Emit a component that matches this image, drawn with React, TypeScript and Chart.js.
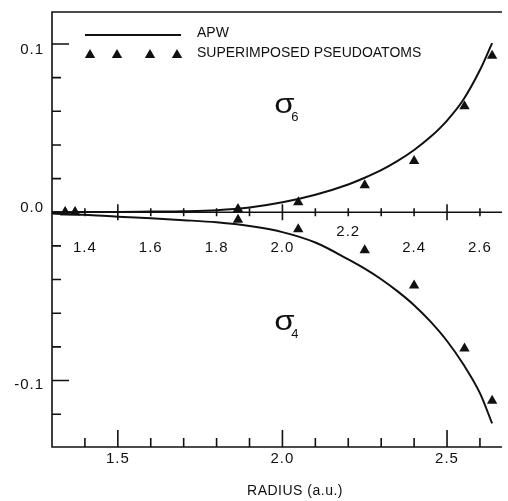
import { useEffect, useRef } from 'react';
import { Chart, registerables } from 'chart.js';

Chart.register(...registerables);

// APW curves (radius in a.u.)
const apwRadius = [1.3, 1.4, 1.5, 1.6, 1.7, 1.8, 1.9, 2.0, 2.1, 2.2, 2.25, 2.3, 2.35, 2.4, 2.45, 2.5, 2.55, 2.6, 2.637];
const apwSigma6 = [0.0, 0.0001, 0.0002, 0.0004, 0.0006, 0.0012, 0.0028, 0.0059, 0.0104, 0.0165, 0.0205, 0.025, 0.0305, 0.037, 0.0448, 0.0545, 0.067, 0.0845, 0.1005];
const apwSigma4 = [-0.0008, -0.0015, -0.0027, -0.0036, -0.0047, -0.006, -0.0082, -0.0118, -0.018, -0.028, -0.0335, -0.0398, -0.047, -0.0552, -0.065, -0.0765, -0.0905, -0.1075, -0.1255];

// Superimposed pseudoatoms
const pseudoRadius = [1.34, 1.37, 1.865, 2.048, 2.25, 2.4, 2.553, 2.637];
const pseudoSigma6 = [0.0, 0.0, 0.002, 0.006, 0.016, 0.0305, 0.063, 0.093];
const pseudoSigma4 = [0.0, 0.0, -0.0044, -0.0101, -0.0226, -0.0435, -0.081, -0.112];

// Axis ticks
const yMajorTicks = [0.1, 0.0, -0.1];
const yTickLabels = ['0.1', '0.0', '-0.1'];
const yMinorTicks = [0.08, 0.06, 0.04, 0.02, -0.02, -0.04, -0.06, -0.08, -0.12];
const xMajorTicks = [1.5, 2.0, 2.5];
const xTickLabels = ['1.5', '2.0', '2.5'];
const xMinorTicks = [1.4, 1.6, 1.7, 1.8, 1.9, 2.1, 2.2, 2.3, 2.4, 2.6];
const midMinorTicks = [1.4, 1.6, 1.7, 1.8, 1.9, 2.1, 2.2, 2.3, 2.4, 2.6];
const midLabelValues = [1.4, 1.6, 1.8, 2.0, 2.2, 2.4, 2.6];
const midLabels = ['1.4', '1.6', '1.8', '2.0', '2.2', '2.4', '2.6'];
const midLabelRaised = [false, false, false, false, true, false, false];

const xTitle = 'RADIUS (a.u.)';
const legendLine = 'APW';
const legendPoints = 'SUPERIMPOSED PSEUDOATOMS';
const sigmaLabels = [
  { sub: '6', r: 1.975, v: 0.064 },
  { sub: '4', r: 1.975, v: -0.065 },
];

const INK = '#111';
const FONT = '"Liberation Sans", Arial, sans-serif';

function drawTriangle(ctx: CanvasRenderingContext2D, x: number, y: number, r: number) {
  const step = (2 * Math.PI) / 3;
  ctx.beginPath();
  for (let i = 0; i < 3; i++) {
    const a = i * step;
    const px = x + Math.sin(a) * r;
    const py = y - Math.cos(a) * r;
    if (i === 0) ctx.moveTo(px, py);
    else ctx.lineTo(px, py);
  }
  ctx.closePath();
  ctx.fill();
}

const axesPlugin = {
  id: 'customAxes',
  afterDraw(chart: any) {
    const { ctx, chartArea, scales } = chart;
    const { left, right, top, bottom } = chartArea;
    const x = scales.x;
    const y = scales.y;
    ctx.save();
    ctx.strokeStyle = INK;
    ctx.fillStyle = INK;
    ctx.lineWidth = 1.6;

    // frame: top, left, bottom
    ctx.beginPath();
    ctx.moveTo(right, top);
    ctx.lineTo(left, top);
    ctx.lineTo(left, bottom);
    ctx.lineTo(right, bottom);
    ctx.stroke();

    // y ticks (inward)
    ctx.beginPath();
    yMajorTicks.forEach((v) => {
      const py = y.getPixelForValue(v);
      ctx.moveTo(left, py);
      ctx.lineTo(left + 17, py);
    });
    yMinorTicks.forEach((v) => {
      const py = y.getPixelForValue(v);
      ctx.moveTo(left, py);
      ctx.lineTo(left + 9, py);
    });
    // x ticks (inward from bottom)
    xMajorTicks.forEach((v) => {
      const px = x.getPixelForValue(v);
      ctx.moveTo(px, bottom);
      ctx.lineTo(px, bottom - 17);
    });
    xMinorTicks.forEach((v) => {
      const px = x.getPixelForValue(v);
      ctx.moveTo(px, bottom);
      ctx.lineTo(px, bottom - 9);
    });
    ctx.stroke();

    // middle axis at zero
    const y0 = y.getPixelForValue(0);
    ctx.beginPath();
    ctx.moveTo(left, y0);
    ctx.lineTo(right, y0);
    xMajorTicks.forEach((v) => {
      const px = x.getPixelForValue(v);
      ctx.moveTo(px, y0 - 8);
      ctx.lineTo(px, y0 + 8);
    });
    midMinorTicks.forEach((v) => {
      const px = x.getPixelForValue(v);
      ctx.moveTo(px, y0 - 4);
      ctx.lineTo(px, y0 + 4);
    });
    ctx.stroke();

    // labels
    ctx.font = `15px ${FONT}`;
    (ctx as any).letterSpacing = '1px';
    ctx.textBaseline = 'middle';
    ctx.textAlign = 'right';
    const yOff = [6, -4, 4];
    yMajorTicks.forEach((v, i) => {
      ctx.fillText(yTickLabels[i], left - 8, y.getPixelForValue(v) + yOff[i]);
    });
    ctx.textAlign = 'center';
    xMajorTicks.forEach((v, i) => {
      ctx.fillText(xTickLabels[i], x.getPixelForValue(v), bottom + 12);
    });
    midLabelValues.forEach((v, i) => {
      ctx.fillText(midLabels[i], x.getPixelForValue(v), y0 + (midLabelRaised[i] ? 20 : 36));
    });

    // x title
    ctx.font = `14px ${FONT}`;
    (ctx as any).letterSpacing = '0.5px';
    ctx.fillText(xTitle, 295, bottom + 44);

    // legend
    ctx.font = `14px ${FONT}`;
    (ctx as any).letterSpacing = '0px';
    ctx.textAlign = 'left';
    ctx.lineWidth = 2;
    ctx.beginPath();
    ctx.moveTo(85, 35);
    ctx.lineTo(181, 35);
    ctx.stroke();
    ctx.fillText(legendLine, 197, 33);
    [90, 117, 150, 177].forEach((px) => drawTriangle(ctx, px, 55, 6));
    ctx.fillText(legendPoints, 197, 53);

    // sigma labels
    sigmaLabels.forEach((s) => {
      const sx = x.getPixelForValue(s.r);
      const sy = y.getPixelForValue(s.v);
      ctx.save();
      ctx.translate(sx, sy);
      ctx.scale(1.22, 1);
      ctx.font = `27px ${FONT}`;
      ctx.textAlign = 'left';
      ctx.textBaseline = 'alphabetic';
      ctx.fillText('σ', 0, 8);
      ctx.restore();
      ctx.font = `13px ${FONT}`;
      ctx.textAlign = 'left';
      ctx.textBaseline = 'middle';
      ctx.fillText(s.sub, sx + 17, sy + 13);
    });

    ctx.restore();
  },
};

export default function App() {
  const canvasRef = useRef<HTMLCanvasElement | null>(null);

  useEffect(() => {
    document.body.style.margin = '0';
    const canvas = canvasRef.current;
    if (!canvas) return;
    const toPts = (xs: number[], ys: number[]) => xs.map((v, i) => ({ x: v, y: ys[i] }));
    const chart = new Chart(canvas, {
      type: 'scatter',
      data: {
        datasets: [
          {
            label: 'APW σ6',
            data: toPts(apwRadius, apwSigma6),
            showLine: true,
            borderColor: INK,
            borderWidth: 2,
            pointRadius: 0,
            cubicInterpolationMode: 'monotone',
          },
          {
            label: 'APW σ4',
            data: toPts(apwRadius, apwSigma4),
            showLine: true,
            borderColor: INK,
            borderWidth: 2,
            pointRadius: 0,
            cubicInterpolationMode: 'monotone',
          },
          {
            label: 'Pseudoatoms σ6',
            data: toPts(pseudoRadius, pseudoSigma6),
            showLine: false,
            pointStyle: 'triangle',
            pointRadius: 6,
            backgroundColor: INK,
            borderColor: INK,
            borderWidth: 0,
          },
          {
            label: 'Pseudoatoms σ4',
            data: toPts(pseudoRadius, pseudoSigma4),
            showLine: false,
            pointStyle: 'triangle',
            pointRadius: 6,
            backgroundColor: INK,
            borderColor: INK,
            borderWidth: 0,
          },
        ],
      } as any,
      options: {
        responsive: false,
        maintainAspectRatio: false,
        animation: false,
        layout: { padding: { left: 52, top: 12, right: 0, bottom: 54 } },
        scales: {
          x: { type: 'linear', min: 1.3, max: 2.667, display: false },
          y: { type: 'linear', min: -0.1395, max: 0.119, display: false },
        },
        plugins: {
          legend: { display: false },
          tooltip: { enabled: false },
        },
      },
      plugins: [axesPlugin],
    });
    return () => chart.destroy();
  }, []);

  return (
    <div style={{ position: 'relative', width: 508, height: 501, background: '#fff' }}>
      <canvas ref={canvasRef} width={508} height={501} />
    </div>
  );
}
